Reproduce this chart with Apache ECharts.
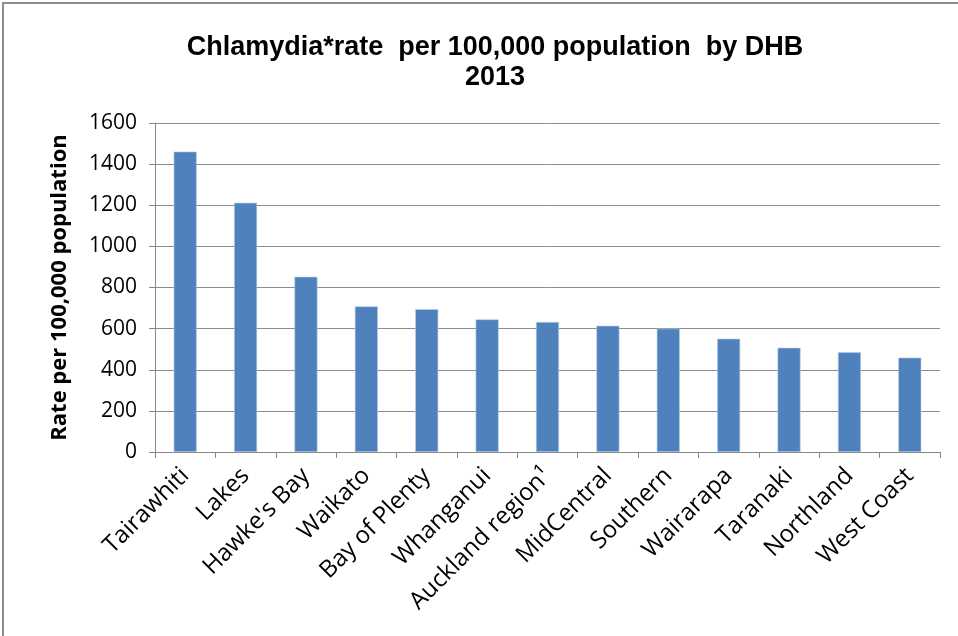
<!DOCTYPE html>
<html>
<head>
<meta charset="utf-8">
<script src="https://cdn.jsdelivr.net/npm/echarts@6/dist/echarts.min.js"></script>
<style>
  html, body { margin: 0; padding: 0; background: #fff; }
  #chart { width: 958px; height: 636px; }
</style>
</head>
<body>
<div id="chart"></div>
<script>
// Chlamydia rate per 100,000 population by DHB, 2013
const categories = ['Tairawhiti', 'Lakes', "Hawke's Bay", 'Waikato', 'Bay of Plenty', 'Whanganui',
  'Auckland region\u00B9', 'MidCentral', 'Southern', 'Wairarapa', 'Taranaki', 'Northland', 'West Coast'];
const rates = [1461, 1212, 852, 708, 695, 645, 632, 614, 600, 551, 507, 485, 459];
const yTicks = { min: 0, max: 1600, step: 200 };

const chart = echarts.init(document.getElementById('chart'), null, { renderer: 'canvas' });
const titleFont = 'Liberation Sans, Arial, sans-serif';
const bodyFont = 'Open Sans, sans-serif';

chart.setOption({
  animation: false,
  backgroundColor: '#ffffff',
  graphic: [{
    type: 'rect',
    shape: { x: 3, y: 3, width: 1000, height: 700 },
    style: { fill: 'none', stroke: '#8c8c8c', lineWidth: 2 },
    silent: true
  }],
  title: {
    text: 'Chlamydia*rate  per 100,000 population  by DHB\n2013',
    left: 490,
    textAlign: 'center',
    top: 28,
    textStyle: {
      fontFamily: titleFont,
      fontWeight: 'bold',
      fontSize: 27,
      lineHeight: 30,
      color: '#000'
    }
  },
  grid: { left: 155, right: 18, top: 123, bottom: 184, containLabel: false },
  xAxis: {
    type: 'category',
    data: categories,
    boundaryGap: true,
    axisLine: { lineStyle: { color: '#868686', width: 1 } },
    axisTick: { show: true, alignWithLabel: false, length: 6, lineStyle: { color: '#868686' } },
    axisLabel: {
      interval: 0,
      rotate: 45,
      margin: 20,
      fontFamily: bodyFont,
      fontSize: 24,
      color: '#000'
    }
  },
  yAxis: {
    type: 'value',
    min: yTicks.min,
    max: yTicks.max,
    interval: yTicks.step,
    name: 'Rate per 100,000 population',
    nameLocation: 'middle',
    nameRotate: 90,
    nameGap: 84,
    nameTextStyle: {
      fontFamily: bodyFont,
      fontWeight: 'bold',
      fontSize: 22,
      color: '#000'
    },
    axisLine: { show: true, lineStyle: { color: '#868686', width: 1 } },
    axisTick: { show: true, length: 6, lineStyle: { color: '#868686' } },
    axisLabel: {
      margin: 18,
      formatter: v => String(v),
      fontFamily: bodyFont,
      fontSize: 21,
      color: '#000'
    },
    splitLine: { show: true, lineStyle: { color: '#8c8c8c', width: 1 } }
  },
  series: [{
    type: 'bar',
    data: rates,
    barWidth: 23,
    itemStyle: { color: '#4F81BD', borderColor: '#b8cce4', borderWidth: 0.6 }
  }]
});
</script>
</body>
</html>
